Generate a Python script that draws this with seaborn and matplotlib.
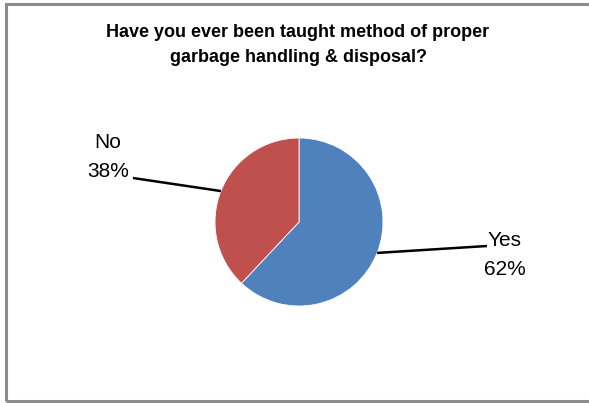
import numpy as np
import matplotlib
matplotlib.use("Agg")
import matplotlib.pyplot as plt
import seaborn as sns
from matplotlib.patches import Rectangle

# survey answers
labels = ["Yes", "No"]
shares = [62, 38]
title = "Have you ever been taught method of proper\ngarbage handling & disposal?"

sns.set_style("white")
plt.rcParams['font.family'] = ['Liberation Sans', 'DejaVu Sans']
plt.rcParams['text.color'] = 'black'
colors = ["#4F81BD", "#C0504D"]

W, H = 589, 403
fig = plt.figure(figsize=(W / 100, H / 100), dpi=100)
ax = fig.add_axes([0, 0, 1, 1])

cx, cy, r = 299, H - 222, 84
wedges, _ = ax.pie(shares, colors=colors, startangle=90, counterclock=False,
                   center=(cx, cy), radius=r, frame=True,
                   wedgeprops=dict(linewidth=0.6, edgecolor="white"))
ax.set_xlim(0, W)
ax.set_ylim(0, H)
ax.set_aspect("equal")
ax.axis("off")

# chart border (like the office chart frame)
ax.add_patch(Rectangle((6, 2.5), W + 10, H - 6.5, fill=False,
                       edgecolor="#8c8c8c", linewidth=2.2))

# label anchor points (end of leader line) and text positions
line_ends = {"Yes": (487, H - 246), "No": (133, H - 178)}
text_pos = {"Yes": (505, H - 255), "No": (108, H - 157)}

for w, lab, val in zip(wedges, labels, shares):
    ang = np.deg2rad((w.theta1 + w.theta2) / 2)
    x0 = cx + r * np.cos(ang)
    y0 = cy + r * np.sin(ang)
    x1, y1 = line_ends[lab]
    ax.plot([x0, x1], [y0, y1], color="black", linewidth=1.8,
            solid_capstyle="butt")
    tx, ty = text_pos[lab]
    ax.text(tx, ty, f"{lab}\n{val}%", ha="center", va="center",
            fontsize=15, linespacing=1.7, color="black")

ax.text(298, H - 45, title, ha="center", va="center", fontsize=13,
        fontweight="bold", linespacing=1.6, color="black")

fig.savefig("out.png", dpi=100)
